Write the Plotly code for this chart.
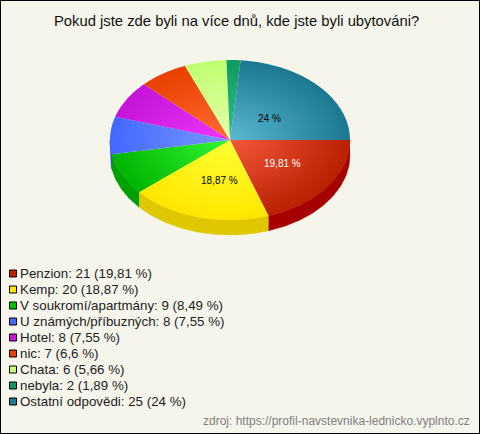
import numpy as np
import plotly.graph_objects as go

title = "Pokud jste zde byli na více dnů, kde jste byli ubytováni?"
source = "zdroj: https://profil-navstevnika-lednicko.vyplnto.cz"
categories = ["Penzion", "Kemp", "V soukromí/apartmány", "U známých/příbuzných", "Hotel", "nic", "Chata", "nebyla", "Ostatní odpovědi"]
counts = [21, 20, 9, 8, 8, 7, 6, 2, 25]
percent_labels = ["19,81", "18,87", "8,49", "7,55", "7,55", "6,6", "5,66", "1,89", "24"]
centre_colors = ["#f4583a", "#ffff33", "#33f533", "#7898ff", "#f036ff", "#ff6c30", "#e8ffaa", "#2cc088", "#5cb8d0"]
edge_colors = ["#b82000", "#ffe600", "#00b400", "#4468ff", "#c414d8", "#e84000", "#c0ff70", "#109a60", "#1c7890"]
side_colors = ["#a60000", "#e0c800", "#00a000", "#2c48c0", "#9000a0", "#b03000", "#90c050", "#087048", "#105868"]
legend_colors = ["#c02000", "#ffe800", "#00c000", "#4868ff", "#c814d4", "#e84000", "#c4ff78", "#109860", "#1c7c94"]
label_colors = {"Penzion": "white", "Kemp": "black", "Ostatní odpovědi": "black"}
label_shift = {"Penzion": (4, 0), "Kemp": (5, 2), "Ostatní odpovědi": (-5, 5)}

CX, CY, RX, RY, DEPTH = 230, 140, 120, 80, 15
values = np.array(counts, float)
edges = np.concatenate([[0], np.cumsum(values)]) / values.sum() * 2 * np.pi


def arc(a0, a1):
    t = np.linspace(a0, a1, max(3, int((a1 - a0) * 60)))
    return CX + RX * np.cos(t), CY + RY * np.sin(t)


fig = go.Figure()
# side wall of the disc (front half only)
for i in range(len(counts)):
    a0, a1 = max(edges[i], 0), min(edges[i + 1], np.pi)
    if a1 <= a0:
        continue
    x, y = arc(a0, a1)
    px = np.concatenate([x, x[::-1]])
    py = np.concatenate([y, y[::-1] + DEPTH])
    fig.add_trace(go.Scatter(x=px, y=py, fill="toself", mode="lines", line=dict(width=0.5, color=side_colors[i]),
                             fillcolor=side_colors[i], hoverinfo="skip", showlegend=False))
# top of the disc
for i in range(len(counts)):
    x, y = arc(edges[i], edges[i + 1])
    # zero-area spurs stretch the bounding box so the gradient is centred on the disc
    sx = [CX, CX + RX, CX, CX - RX, CX, CX, CX, CX, CX]
    sy = [CY, CY, CY, CY, CY, CY - RY, CY, CY + RY, CY]
    fig.add_trace(go.Scatter(
        x=np.concatenate([[CX], x, sx]), y=np.concatenate([[CY], y, sy]),
        fill="toself", mode="lines", line=dict(width=0, simplify=False),
        fillgradient=dict(type="radial", colorscale=[[0, centre_colors[i]], [1, edge_colors[i]]]),
        name=categories[i], hoverinfo="skip", showlegend=False))

annotations = [
    dict(x=236.5, y=21, text=title, font=dict(size=14.8, color="#111111")),
    dict(x=472, y=421, text=source, xanchor="right", font=dict(size=12, color="#808080")),
]
shapes = [dict(type="rect", xref="paper", yref="paper", x0=0, x1=1, y0=0, y1=1, line=dict(color="black", width=2))]
for i, c in enumerate(categories):
    if c in label_colors:
        mid = (edges[i] + edges[i + 1]) / 2
        dx, dy = label_shift[c]
        annotations.append(dict(x=CX + RX * 0.5 * np.cos(mid) + dx, y=CY + RY * 0.5 * np.sin(mid) + dy,
                                text=f"{percent_labels[i]} %", font=dict(size=10, color=label_colors[c])))
    row = 273.5 + 16 * i
    shapes.append(dict(type="rect", x0=9.5, x1=16.5, y0=row - 3.5, y1=row + 3.5,
                       fillcolor=legend_colors[i], line=dict(color="black", width=1)))
    annotations.append(dict(x=18, y=row, xanchor="left",
                            text=f"{c}: {counts[i]} ({percent_labels[i]} %)", font=dict(size=13.33, color="#222222")))
for a in annotations:
    a.setdefault("showarrow", False)
    a.setdefault("xref", "x")
    a.setdefault("yref", "y")

fig.update_layout(
    width=480, height=434, margin=dict(l=0, r=0, t=0, b=0), autosize=False,
    paper_bgcolor="#f5f5ec", plot_bgcolor="rgba(0,0,0,0)",
    font=dict(family="Liberation Sans, Arial, sans-serif"),
    xaxis=dict(range=[0, 480], visible=False, fixedrange=True),
    yaxis=dict(range=[434, 0], visible=False, fixedrange=True),
    annotations=annotations, shapes=shapes, showlegend=False,
)
fig.write_html("out.html", config=dict(displayModeBar=False),
               post_script="document.documentElement.style.margin='0';document.body.style.margin='0';document.body.style.overflow='hidden';")
